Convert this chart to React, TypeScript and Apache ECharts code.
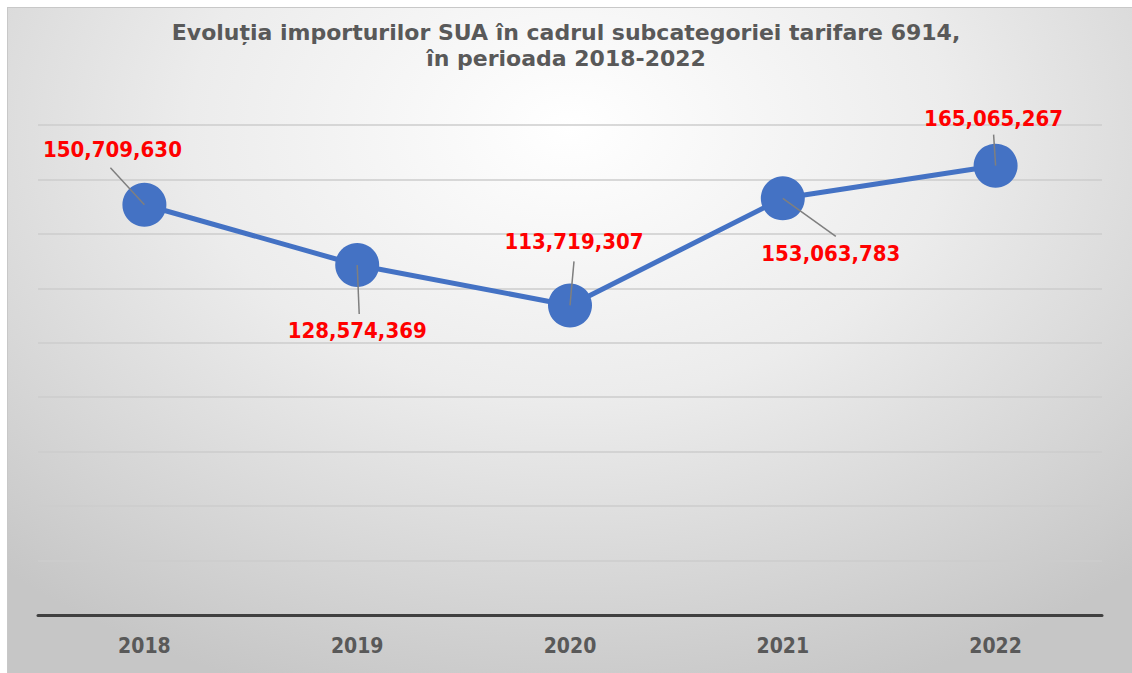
import React, { useEffect, useRef } from "react";
import * as echarts from "echarts";

const categories = ["2018", "2019", "2020", "2021", "2022"];
const imports = [150709630, 128574369, 113719307, 153063783, 165065267];
const yMin = 0;
const yMax = 180000000;
const yInterval = 20000000;
const titleText = "Evoluția importurilor SUA în cadrul subcategoriei tarifare 6914,\nîn perioada 2018-2022";

// label offsets (styling) relative to each point
const labelOffsets = [
  [-32, -55],
  [0, 66],
  [4, -64],
  [48, 55],
  [-2, -47],
];
// leader line end offsets (styling) relative to each point
const leaderOffsets = [
  [-34, -37],
  [2, 49],
  [4, -44],
  [53, 38],
  [-2, -31],
];

const FONT = "'DejaVu Sans Condensed', 'Liberation Sans Narrow', 'DejaVu Sans', sans-serif";
const TITLE_FONT = "'DejaVu Sans', sans-serif";

function fmt(v: number) {
  return v.toString().replace(/\B(?=(\d{3})+(?!\d))/g, ",");
}

export default function App() {
  const ref = useRef<HTMLDivElement>(null);
  useEffect(() => {
    document.body.style.margin = "0";
    if (!ref.current) return;
    const chart = echarts.init(ref.current, null, { renderer: "svg" });
    chart.setOption({
      animation: false,
      backgroundColor: "transparent",
      title: {
        text: titleText,
        left: "center",
        top: 14,
        textStyle: {
          fontFamily: TITLE_FONT,
          fontWeight: "bold",
          fontSize: 22,
          lineHeight: 26,
          color: "#595959",
        },
      },
      grid: { left: 38, right: 30, top: 125, bottom: 58 },
      xAxis: {
        type: "category",
        data: categories,
        boundaryGap: true,
        axisTick: { show: false },
        axisLine: { show: true, lineStyle: { color: "#404040", width: 3 } },
        axisLabel: {
          margin: 20,
          fontFamily: FONT,
          fontWeight: "bold",
          fontSize: 21,
          color: "#595959",
        },
      },
      yAxis: {
        type: "value",
        min: yMin,
        max: yMax,
        interval: yInterval,
        axisLabel: { show: false },
        axisLine: { show: false },
        axisTick: { show: false },
        splitLine: { show: true, lineStyle: { color: "#cccccc", width: 1.5 } },
      },
      series: [
        {
          type: "line",
          data: imports,
          symbol: "circle",
          symbolSize: 44,
          lineStyle: { color: "#4472C4", width: 5 },
          itemStyle: { color: "#4472C4" },
          label: {
            show: true,
            position: "inside",
            formatter: (p: any) => fmt(p.value),
            fontFamily: FONT,
            fontWeight: "bold",
            fontSize: 22,
            color: "#FF0000",
          },
          labelLayout: (p: any) => {
            const o = labelOffsets[p.dataIndex];
            return { dx: o[0], dy: o[1] };
          },
        },
      ],
    });
    const lines = imports.map((v, i) => {
      const pt = chart.convertToPixel({ seriesIndex: 0 }, [i, v]) as number[];
      const o = leaderOffsets[i];
      return {
        type: "line",
        z: 100,
        silent: true,
        shape: { x1: pt[0], y1: pt[1], x2: pt[0] + o[0], y2: pt[1] + o[1] },
        style: { stroke: "#7f7f7f", lineWidth: 1.5 },
      };
    });
    chart.setOption({ graphic: lines });
    return () => chart.dispose();
  }, []);
  return (
    <div style={{ position: "relative", width: 1132, height: 673, background: "#ffffff", overflow: "hidden" }}>
      <div
        style={{
          position: "absolute",
          left: 7,
          top: 7,
          width: 1125,
          height: 666,
          boxSizing: "border-box",
          borderTop: "1px solid #c8c8c8",
          borderLeft: "1px solid #c8c8c8",
          background: "radial-gradient(ellipse 75% 90% at 50% 18%, #ffffff 0%, #ececec 45%, #d4d4d4 80%, #c6c6c6 100%)",
        }}
      />
      <div ref={ref} style={{ position: "absolute", left: 0, top: 0, width: 1132, height: 673 }} />
    </div>
  );
}
